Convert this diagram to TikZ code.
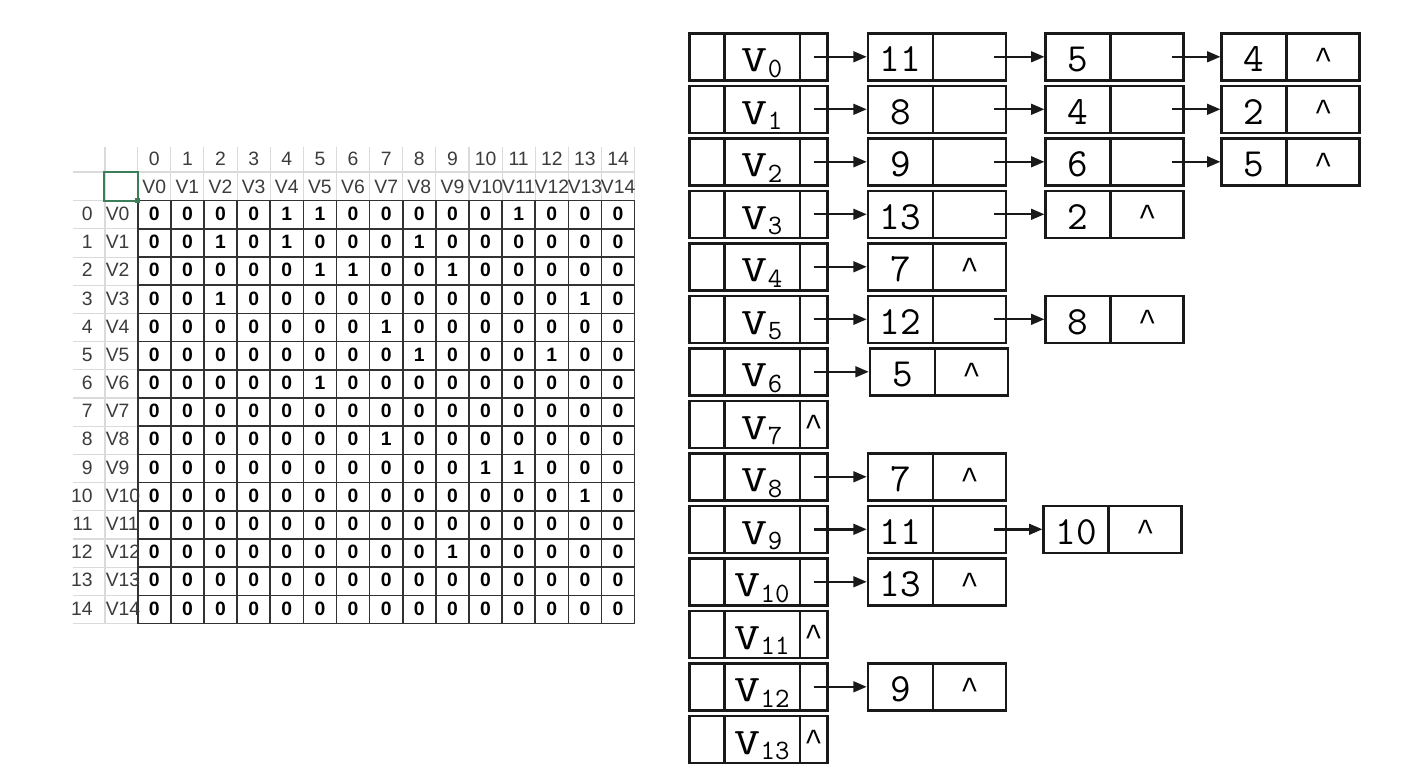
\documentclass[tikz,border=0pt]{standalone}
\usepackage{fontspec}
\usepackage{graphicx}
\setsansfont{Liberation Sans}
\newfontfamily\caretfont{Liberation Mono}
\usetikzlibrary{arrows.meta}
\definecolor{gridlight}{RGB}{218,218,218}
\definecolor{griddark}{RGB}{50,50,50}
\definecolor{hdrtext}{RGB}{60,60,60}
\definecolor{selgreen}{RGB}{60,125,90}
\definecolor{boxline}{RGB}{25,25,25}
\newcommand{\car}{\raisebox{2.5pt}{\caretfont\fontsize{23}{23}\selectfont\textasciicircum}}
\newcommand{\vrow}[3]{%
  \node[cell, minimum width=26.25pt] (v#1a) at (706.8,{56.8+52.5*#1}) {};
  \node[cell, minimum width=56.8pt, vfont] (v#1b) at (762.15,{56.8+52.5*#1}) {\scalebox{1.35}[1]{V}\raisebox{-4pt}{\fontsize{21}{21}\selectfont #2}};
  \node[cell, minimum width=20.5pt, numfont] (v#1c) at (813.65,{56.8+52.5*#1}) {#3};
}
\newcommand{\lnode}[6]{%
  \node[cell, minimum width=48.75pt, numfont] (#1a) at (#2,{56.8+52.5*#4}) {#5};
  \node[cell, minimum width=54.75pt, numfont] (#1b) at (#3,{56.8+52.5*#4}) {#6};
}
\newcommand{\headlink}[2]{\draw[arr] (v#1c.center) -- (#2a.west);}
\newcommand{\nextlink}[2]{\draw[arr] ([xshift=-9.75pt]#1b.east) -- (#2a.west);}
\begin{document}
\begin{tikzpicture}[x=0.75pt,y=-0.75pt,
  hdr/.style={font=\sffamily\fontsize{14.5}{14.5}\selectfont, text=hdrtext, inner sep=0pt},
  dat/.style={font=\sffamily\bfseries\fontsize{14.5}{14.5}\selectfont, text=black, inner sep=0pt},
  cell/.style={draw=boxline, line width=1.9pt, minimum height=35.25pt, inner sep=0pt, text height=22.5pt, text depth=0pt},
  vfont/.style={font=\ttfamily\fontsize{28}{28}\selectfont},
  numfont/.style={font=\ttfamily\fontsize{30}{30}\selectfont},
  arr/.style={line width=1.8pt, draw=boxline, -{Triangle[length=10pt,width=8pt]}},
  lgrid/.style={draw=gridlight, line width=0.8pt},
  dgrid/.style={draw=griddark, line width=1.2pt}
]
\useasboundingbox[fill=white] (0,0) rectangle (1421,777);

% ---------- adjacency matrix (spreadsheet) ----------
\draw[lgrid] (73,172) -- (635,172);
\foreach \k in {0,...,15} \draw[lgrid] (73,{200.7+28.19*\k}) -- (137.7,{200.7+28.19*\k});
\draw[lgrid] (105,147) -- (105,623.55);
\foreach \k in {0,...,15} \draw[lgrid] ({137.7+33.13*\k},147) -- ({137.7+33.13*\k},200.7);

\foreach \k in {0,...,15} {
  \draw[dgrid] ({137.7+33.13*\k},200.7) -- ({137.7+33.13*\k},623.55);
  \draw[dgrid] (137.7,{200.7+28.19*\k}) -- (634.65,{200.7+28.19*\k});
}

\draw[selgreen, line width=1.5pt] (103.5,172) rectangle (137.7,200.7);
\fill[selgreen] (135.2,198.2) rectangle (140.2,203.2);

\foreach \c in {0,...,14} {
  \node[hdr] (h\c) at ({137.7+33.13*(\c+0.5)},159) {\c};
  \node[hdr] (hv\c) at ({137.7+33.13*(\c+0.5)},187) {V\c};
}
\foreach \r in {0,...,14} {
  \node[hdr, anchor=east] (rn\r) at (93,{199.7+28.19*(\r+0.5)}) {\r};
  \node[hdr, anchor=west] (rv\r) at (105.5,{199.7+28.19*(\r+0.5)}) {V\r};
}
\foreach \row [count=\r from 0] in {
  {0,0,0,0,1,1,0,0,0,0,0,1,0,0,0},
  {0,0,1,0,1,0,0,0,1,0,0,0,0,0,0},
  {0,0,0,0,0,1,1,0,0,1,0,0,0,0,0},
  {0,0,1,0,0,0,0,0,0,0,0,0,0,1,0},
  {0,0,0,0,0,0,0,1,0,0,0,0,0,0,0},
  {0,0,0,0,0,0,0,0,1,0,0,0,1,0,0},
  {0,0,0,0,0,1,0,0,0,0,0,0,0,0,0},
  {0,0,0,0,0,0,0,0,0,0,0,0,0,0,0},
  {0,0,0,0,0,0,0,1,0,0,0,0,0,0,0},
  {0,0,0,0,0,0,0,0,0,0,1,1,0,0,0},
  {0,0,0,0,0,0,0,0,0,0,0,0,0,1,0},
  {0,0,0,0,0,0,0,0,0,0,0,0,0,0,0},
  {0,0,0,0,0,0,0,0,0,1,0,0,0,0,0},
  {0,0,0,0,0,0,0,0,0,0,0,0,0,0,0},
  {0,0,0,0,0,0,0,0,0,0,0,0,0,0,0}} {
  \foreach \v [count=\c from 0] in \row {
    \node[dat] (d\r-\c) at ({137.7+33.13*(\c+0.5)},{199.7+28.19*(\r+0.5)}) {\v};
  }
}

% ---------- adjacency lists ----------
\vrow{0}{0}{}
\vrow{1}{1}{}
\vrow{2}{2}{}
\vrow{3}{3}{}
\vrow{4}{4}{}
\vrow{5}{5}{}
\vrow{6}{6}{}
\vrow{7}{7}{\car}
\vrow{8}{8}{}
\vrow{9}{9}{}
\vrow{10}{10}{}
\vrow{11}{11}{\car}
\vrow{12}{12}{}
\vrow{13}{13}{\car}

\lnode{n0x}{900.5}{969.5}{0}{11}{}
\lnode{n0y}{1078.2}{1147.2}{0}{5}{}
\lnode{n0z}{1254.2}{1323.2}{0}{4}{\car}
\lnode{n1x}{900.5}{969.5}{1}{8}{}
\lnode{n1y}{1078.2}{1147.2}{1}{4}{}
\lnode{n1z}{1254.2}{1323.2}{1}{2}{\car}
\lnode{n2x}{900.5}{969.5}{2}{9}{}
\lnode{n2y}{1078.2}{1147.2}{2}{6}{}
\lnode{n2z}{1254.2}{1323.2}{2}{5}{\car}
\lnode{n3x}{900.5}{969.5}{3}{13}{}
\lnode{n3y}{1078.2}{1147.2}{3}{2}{\car}
\lnode{n4x}{900.5}{969.5}{4}{7}{\car}
\lnode{n5x}{900.5}{969.5}{5}{12}{}
\lnode{n5y}{1078.2}{1147.2}{5}{8}{\car}
\lnode{n6x}{902.5}{971.5}{6}{5}{\car}
\lnode{n8x}{900.5}{969.5}{8}{7}{\car}
\lnode{n9x}{900.5}{969.5}{9}{11}{}
\lnode{n9y}{1076.2}{1145.2}{9}{10}{\car}
\lnode{n10x}{900.5}{969.5}{10}{13}{\car}
\lnode{n12x}{900.5}{969.5}{12}{9}{\car}

\headlink{0}{n0x} \nextlink{n0x}{n0y} \nextlink{n0y}{n0z}
\headlink{1}{n1x} \nextlink{n1x}{n1y} \nextlink{n1y}{n1z}
\headlink{2}{n2x} \nextlink{n2x}{n2y} \nextlink{n2y}{n2z}
\headlink{3}{n3x} \nextlink{n3x}{n3y}
\headlink{4}{n4x}
\headlink{5}{n5x} \nextlink{n5x}{n5y}
\headlink{6}{n6x}
\headlink{8}{n8x}
\headlink{9}{n9x} \nextlink{n9x}{n9y}
\headlink{10}{n10x}
\headlink{12}{n12x}
\end{tikzpicture}
\end{document}
